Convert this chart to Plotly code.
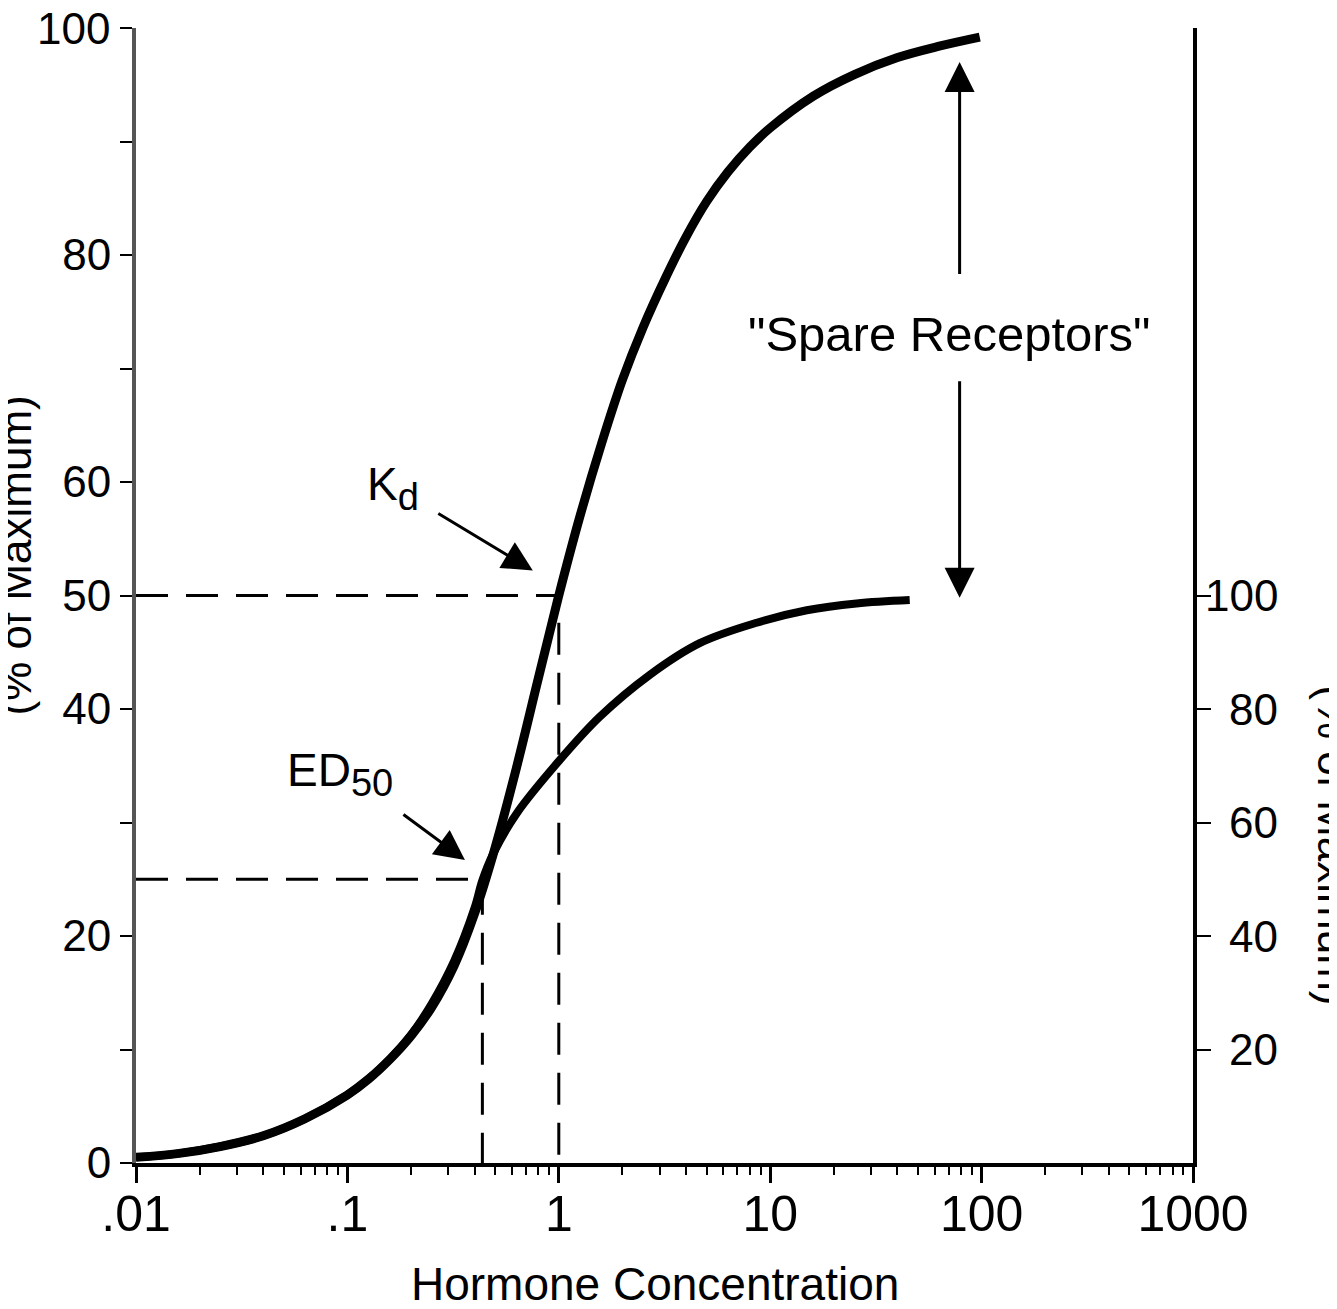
import numpy as np
import plotly.graph_objects as go

# ---------------- data ----------------
# Receptor occupancy curve (left axis, % of maximum)
occ_conc = [0.01, 0.016, 0.025, 0.04, 0.063, 0.1, 0.126, 0.16, 0.2, 0.25, 0.32, 0.4,
            0.5, 0.63, 0.8, 1.0, 1.26, 1.6, 2.0, 2.5, 3.2, 4.0, 5.0, 6.3, 8.0, 10, 16,
            25, 40, 63, 98]
occ_val = [0.5, 0.85, 1.45, 2.4, 3.9, 6.0, 7.4, 9.2, 11.2, 13.7, 17.4, 22.0,
           27.8, 34.8, 42.7, 50.0, 57.0, 63.5, 69.0, 73.6, 78.0, 81.6, 84.7, 87.3, 89.5,
           91.2, 94.0, 95.9, 97.4, 98.4, 99.2]

# Biological response curve (right axis, % of maximum)
resp_conc = [0.01, 0.016, 0.025, 0.04, 0.063, 0.1, 0.126, 0.16, 0.2, 0.25, 0.32, 0.4,
             0.435, 0.488, 0.632, 1.0, 1.56, 2.69, 4.64, 8.63, 14.9, 25.6, 45.7]
resp_val = [1.0, 1.7, 2.9, 4.8, 7.8, 12.0, 14.8, 18.4, 22.6, 28.0, 35.6, 45.0,
            49.8, 54.4, 61.6, 70.8, 78.6, 86.0, 91.6, 95.2, 97.4, 98.6, 99.2]

kd_conc = 1.0        # Kd
kd_occ = 50          # occupancy at Kd
ed50_conc = 0.435    # ED50
ed50_occ = 25        # occupancy at ED50

x_tickvals = [0.01, 0.1, 1, 10, 100, 1000]
x_ticktext = [".01", ".1", "1", "10", "100", "1000"]
y_tickvals = [0, 10, 20, 30, 40, 50, 60, 70, 80, 90, 100]
y_ticktext = ["0", "", "20", "", "40", "50", "60", "", "80", "", "100"]
y2_tickvals = [20, 40, 60, 80, 100]
y2_ticktext = ["20", "40", "60", "80", "100"]

FONT = "Liberation Sans, Arial, Helvetica, sans-serif"
FS = 44

fig = go.Figure()

# dashed guide lines
dash = "32px,18px"
fig.add_trace(go.Scatter(x=[0.01, kd_conc, kd_conc], y=[kd_occ, kd_occ, 0], mode="lines",
                         line=dict(color="black", width=3, dash=dash), showlegend=False,
                         hoverinfo="skip"))
fig.add_trace(go.Scatter(x=[0.01, ed50_conc, ed50_conc], y=[ed50_occ, ed50_occ, 0], mode="lines",
                         line=dict(color="black", width=3, dash=dash), showlegend=False,
                         hoverinfo="skip"))

# curves
fig.add_trace(go.Scatter(x=occ_conc, y=occ_val, mode="lines",
                         line=dict(color="black", width=9, shape="spline", smoothing=1.0),
                         name="Receptor occupancy", showlegend=False))
fig.add_trace(go.Scatter(x=resp_conc, y=resp_val, mode="lines", yaxis="y2",
                         line=dict(color="black", width=8, shape="spline", smoothing=1.0),
                         name="Biological response", showlegend=False))

# minor ticks on the log axis
minor_vals = [m * 10.0 ** e for e in range(-2, 3) for m in range(2, 10)]

# the page body has an 8px margin, so the figure is made 8px smaller
fig.update_layout(
    width=1329, height=1301,
    paper_bgcolor="white", plot_bgcolor="white",
    margin=dict(l=128, r=144, t=20, b=146),
    font=dict(family=FONT, size=FS, color="black"),
    xaxis=dict(
        type="log", range=[-2, 3],
        tickmode="array", tickvals=x_tickvals, ticktext=x_ticktext,
        ticks="outside", ticklen=16, tickwidth=3, tickcolor="black",
        showline=True, linewidth=4, linecolor="black",
        showgrid=False, zeroline=False,
        tickfont=dict(size=50, color="black"),
        ticklabelstandoff=-12,
        minor=dict(tickmode="array", tickvals=minor_vals, ticks="outside",
                   ticklen=8, tickwidth=2, tickcolor="black", showgrid=False),
        automargin=False,
    ),
    yaxis=dict(
        range=[0, 100],
        tickmode="array", tickvals=y_tickvals,
        ticktext=[t if v < 100 else "" for v, t in zip(y_tickvals, y_ticktext)],
        ticks="outside", ticklen=12, tickwidth=2, tickcolor="black",
        showline=True, linewidth=4, linecolor="#555555",
        showgrid=False, zeroline=False,
        tickfont=dict(size=FS, color="black"),
        ticklabelstandoff=0,
        automargin=False,
    ),
    yaxis2=dict(
        overlaying="y", side="right", range=[0, 200],
        tickmode="array", tickvals=y2_tickvals, ticktext=y2_ticktext,
        ticks="outside", ticklen=14, tickwidth=2, tickcolor="black",
        showline=True, linewidth=4, linecolor="black",
        showgrid=False, zeroline=False, showticklabels=False,
        automargin=False,
    ),
)

# top left tick label (drawn as annotation so it is not hidden at the figure's top edge)
fig.add_annotation(x=-0.0227, xref="paper", y=y_tickvals[-1], yref="y", text=y_ticktext[-1],
                   showarrow=False, xanchor="right", yanchor="middle", font=dict(size=FS))

# x-axis title
fig.add_annotation(x=0.491, y=-0.1066, xref="paper", yref="paper",
                   text="Hormone Concentration", showarrow=False,
                   xanchor="center", yanchor="middle", font=dict(size=46))

# right-axis tick labels, right aligned
for v, t in zip(y2_tickvals, y2_ticktext):
    fig.add_annotation(x=1.0823, xref="paper", y=v, yref="y2", text=t, showarrow=False,
                       xanchor="right", yanchor="middle", font=dict(size=FS))

SUB = "<sub><span style='font-size:38px'>{}</span></sub>"
ARROW = dict(showarrow=True, arrowhead=2, arrowsize=2.0, arrowwidth=3, arrowcolor="black",
             xref="x", yref="y", axref="x", ayref="y", text="")

# Kd label and arrow (annotation x on a log axis is in log10 units)
fig.add_annotation(x=-0.785, y=59.5, xref="x", yref="y", text="K" + SUB.format("d"),
                   showarrow=False, font=dict(size=46))
fig.add_annotation(x=-0.123, y=52.2, ax=-0.577, ay=57.3, **ARROW)

# ED50 label and arrow
fig.add_annotation(x=-1.035, y=34.3, xref="x", yref="y", text="ED" + SUB.format("50"),
                   showarrow=False, font=dict(size=46))
fig.add_annotation(x=-0.444, y=26.7, ax=-0.742, ay=30.8, **ARROW)

# "Spare Receptors" with its double arrow
fig.add_annotation(x=1.844, y=73.0, xref="x", yref="y", text="\"Spare Receptors\"",
                   showarrow=False, font=dict(size=49))
fig.add_annotation(x=1.896, y=97.0, ax=1.896, ay=78.2, **ARROW)
fig.add_annotation(x=1.896, y=49.8, ax=1.896, ay=69.0, **ARROW)

# axis titles (cut by the image edges, as in the reference)
fig.add_annotation(x=-0.0889, y=0.535, xref="paper", yref="paper",
                   text="Receptor Occupancy<br>(% of Maximum)", textangle=-90,
                   showarrow=False, xanchor="right", yanchor="middle", font=dict(size=FS))
fig.add_annotation(x=1.108, y=0.28, xref="paper", yref="paper",
                   text="Biological Response<br>(% of Maximum)", textangle=90,
                   showarrow=False, xanchor="left", yanchor="middle", font=dict(size=FS))

fig.write_html("out.html")
